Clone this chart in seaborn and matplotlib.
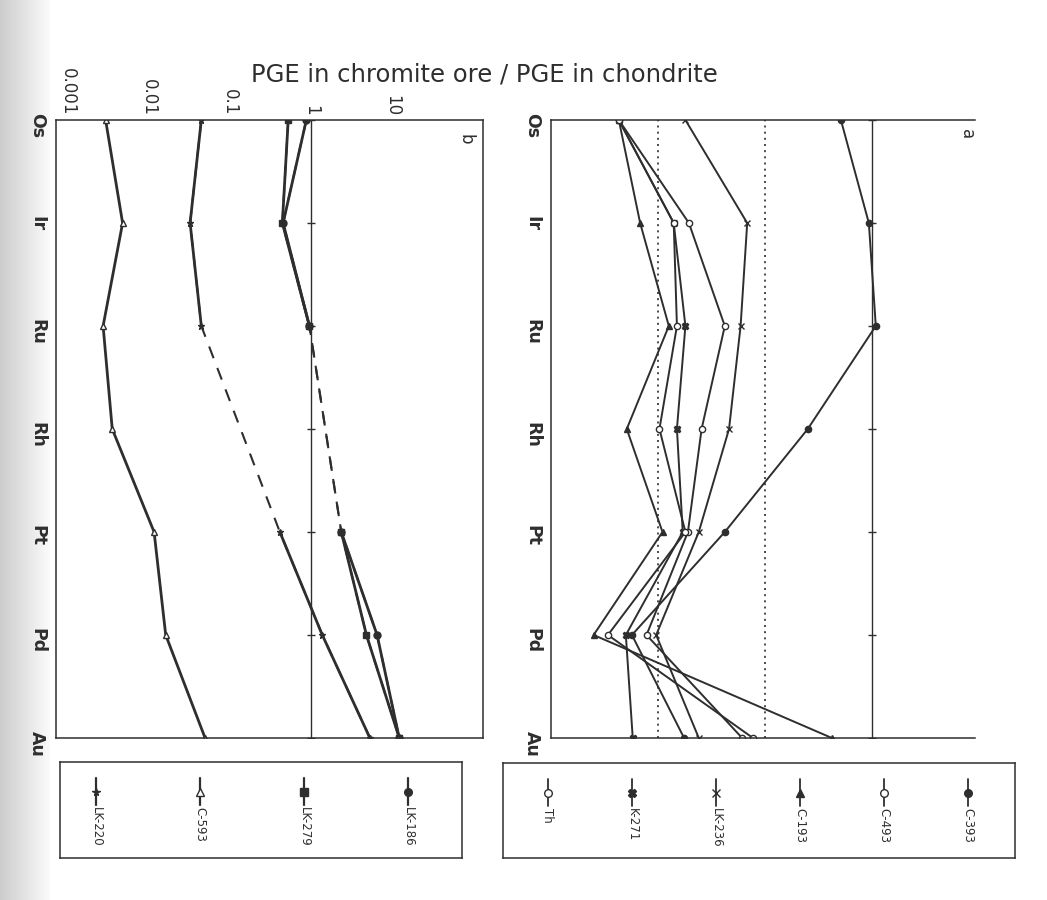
import numpy as np
import pandas as pd
import matplotlib
matplotlib.use("Agg")
import matplotlib.pyplot as plt
import seaborn as sns
from matplotlib.lines import Line2D

# ---------------- data ----------------
elements = ["Os", "Ir", "Ru", "Rh", "Pt", "Pd", "Au"]
b_ticks = [0.001, 0.01, 0.1, 1, 10]
b_tick_labels = ["0.001", "0.01", "0.1", "1", "10"]
nan = np.nan

# panel b (chromite ore / chondrite)
b_names = ["LK-186", "LK-279", "C-593", "LK-220"]
b_LK186 = [0.87, 0.45, 0.95, nan, 2.35, 6.5, 12.2]
b_LK279 = [0.52, 0.44, 0.95, nan, 2.35, 4.8, 12.2]
b_C593 = [0.0029, 0.0047, 0.0027, 0.0035, 0.0115, 0.016, 0.049]
b_LK220 = [0.044, 0.032, 0.044, nan, 0.41, 1.37, 5.3]

# panel a
a_names = ["C-393", "C-493", "C-193", "LK-236", "K-271", "Th"]
a_C393 = [0.51, 0.93, 1.08, 0.25, 0.042, 0.0057, 0.0175]
a_C493 = [0.0043, 0.0194, 0.042, 0.0255, 0.019, 0.0078, 0.061]
a_C193 = [0.0043, 0.0068, 0.0126, 0.0051, 0.011, 0.0025, 0.42]
a_LK236 = [0.018, 0.068, 0.059, 0.046, 0.024, 0.0096, 0.024]
a_K271 = [0.0043, 0.014, 0.018, 0.015, 0.017, 0.005, 0.0058]
a_Th = [0.0043, 0.014, 0.015, 0.0103, 0.018, 0.0034, 0.077]

b_series = [b_LK186, b_LK279, b_C593, b_LK220]
b_markers = [("o", "fill"), ("s", "fill"), ("^", "open"), ("*", "fill")]
a_series = [a_C393, a_C493, a_C193, a_LK236, a_K271, a_Th]
a_markers = [("o", "fill"), ("o", "open"), ("^", "fill"), ("x", "fill"), ("X", "fill"), ("o", "open")]

title = "PGE in chromite ore / PGE in chondrite"

# ---------------- style ----------------
sns.set_style("white")
plt.rcParams["font.family"] = ["DejaVu Sans"]
INK = "#2e2e2e"
W, H = 1047, 900

fig = plt.figure(figsize=(W / 100, H / 100), dpi=100)
fig.patch.set_facecolor("white")


def px_axes(x0, y0, x1, y1, **kw):
    return fig.add_axes([x0 / W, 1 - y1 / H, (x1 - x0) / W, (y1 - y0) / H], **kw)


# scan shading on the left edge
ax_bg = px_axes(0, 0, 50, 900)
grad = np.linspace(0.80, 0.98, 50)[None, :].repeat(10, axis=0)
ax_bg.imshow(grad, cmap="gray", vmin=0, vmax=1, aspect="auto", extent=[0, 1, 0, 1])
ax_bg.set_axis_off()

ax_b = px_axes(56, 120, 483, 738)
ax_a = px_axes(551, 120, 975, 738)


def setup(ax, xlim):
    ax.set_xscale("log")
    ax.set_xlim(*xlim)
    ax.set_ylim(len(elements) - 1, 0)
    ax.set_yticks(range(len(elements)))
    ax.set_yticklabels(elements, rotation=-90, fontsize=12.5, fontweight="bold", color=INK)
    ax.tick_params(axis="y", length=0, pad=7)
    ax.minorticks_off()
    for s in ax.spines.values():
        s.set_color(INK)
        s.set_linewidth(1.1)


def draw_series(ax, vals, marker, fill, lw, ms):
    df = pd.DataFrame({"pos": np.arange(len(elements)), "value": vals})
    ok = df["value"].notna()
    mfc = INK if fill == "fill" else "white"
    if not ok.all():
        sns.lineplot(data=df[ok], x="value", y="pos", sort=False, estimator=None,
                     orient="y", ax=ax, color=INK, lw=lw * 0.75,
                     linestyle=(0, (6, 5)), legend=False)
    seg_id = (~ok).cumsum()
    for _, seg in df[ok].groupby(seg_id[ok]):
        sns.lineplot(data=seg, x="value", y="pos", sort=False, estimator=None,
                     orient="y", ax=ax, color=INK, lw=lw, marker=marker,
                     markersize=ms, markerfacecolor=mfc, markeredgecolor=INK,
                     markeredgewidth=1.0, legend=False)


def ref_line(ax):
    pos = np.arange(len(elements))
    ax.axvline(1, color=INK, lw=1.0, zorder=1)
    ax.plot(np.ones(len(pos)), pos, ls="none", marker="_", ms=6, color=INK, mew=1.0, zorder=1)


# ---- panel b ----
setup(ax_b, (10 ** -3.15, 10 ** 2.12))
ref_line(ax_b)
for vals, (m, f) in zip(b_series, b_markers):
    draw_series(ax_b, vals, m, f, lw=2.0, ms=5)
ax_b.xaxis.tick_top()
ax_b.set_xticks(b_ticks)
ax_b.set_xticklabels(b_tick_labels, rotation=-90, fontsize=12, color=INK)
ax_b.tick_params(axis="x", length=0, pad=3)
ax_b.minorticks_off()
ax_b.set_xlabel("")
ax_b.set_ylabel("")
ax_b.text(0.958, 0.978, "b", transform=ax_b.transAxes, rotation=-90,
          ha="center", va="top", fontsize=12, color=INK)

# ---- panel a ----
setup(ax_a, (10 ** -3.0, 10 ** 0.96))
ref_line(ax_a)
for xv in (0.01, 0.1):
    ax_a.axvline(xv, color=INK, lw=1.2, ls=(0, (1.2, 2.5)), zorder=1)
for vals, (m, f) in zip(a_series, a_markers):
    draw_series(ax_a, vals, m, f, lw=1.4, ms=4.5)
ax_a.set_xticks([])
ax_a.minorticks_off()
ax_a.set_xlabel("")
ax_a.set_ylabel("")
ax_a.spines["right"].set_visible(False)
ax_a.text(0.982, 0.985, "a", transform=ax_a.transAxes, rotation=-90,
          ha="center", va="top", fontsize=12, color=INK)

# ---- title (common value axis label) ----
fig.text(484 / W, 1 - 75 / H, title, ha="center", va="center", fontsize=17.5, color=INK)


# ---- legends (rotated entries inside boxes) ----
def legend_box(x0, y0, x1, y1, names, markers, first_x, spacing, lw):
    lax = px_axes(x0, y0, x1, y1)
    lax.set_xlim(x0, x1)
    lax.set_ylim(y1, y0)
    lax.set_xticks([])
    lax.set_yticks([])
    for s in lax.spines.values():
        s.set_color(INK)
        s.set_linewidth(1.1)
    for i, (name, (m, f)) in enumerate(zip(names, markers)):
        xc = first_x - i * spacing
        lax.add_line(Line2D([xc, xc], [y0 + 16, y0 + 43], color=INK, lw=lw))
        lax.plot([xc], [y0 + 30], marker=m, ms=5.5, color=INK,
                 mfc=INK if f == "fill" else "white", mec=INK, mew=1.0)
        lax.text(xc, y0 + 45, name, rotation=-90, ha="center", va="top",
                 fontsize=8.5, color=INK)
    return lax


legend_box(60, 762, 462, 858, b_names, b_markers, 408, 104, 1.6)
legend_box(503, 763, 1015, 858, a_names, a_markers, 968, 84, 1.3)

fig.savefig("out.png", dpi=100, facecolor="white")
